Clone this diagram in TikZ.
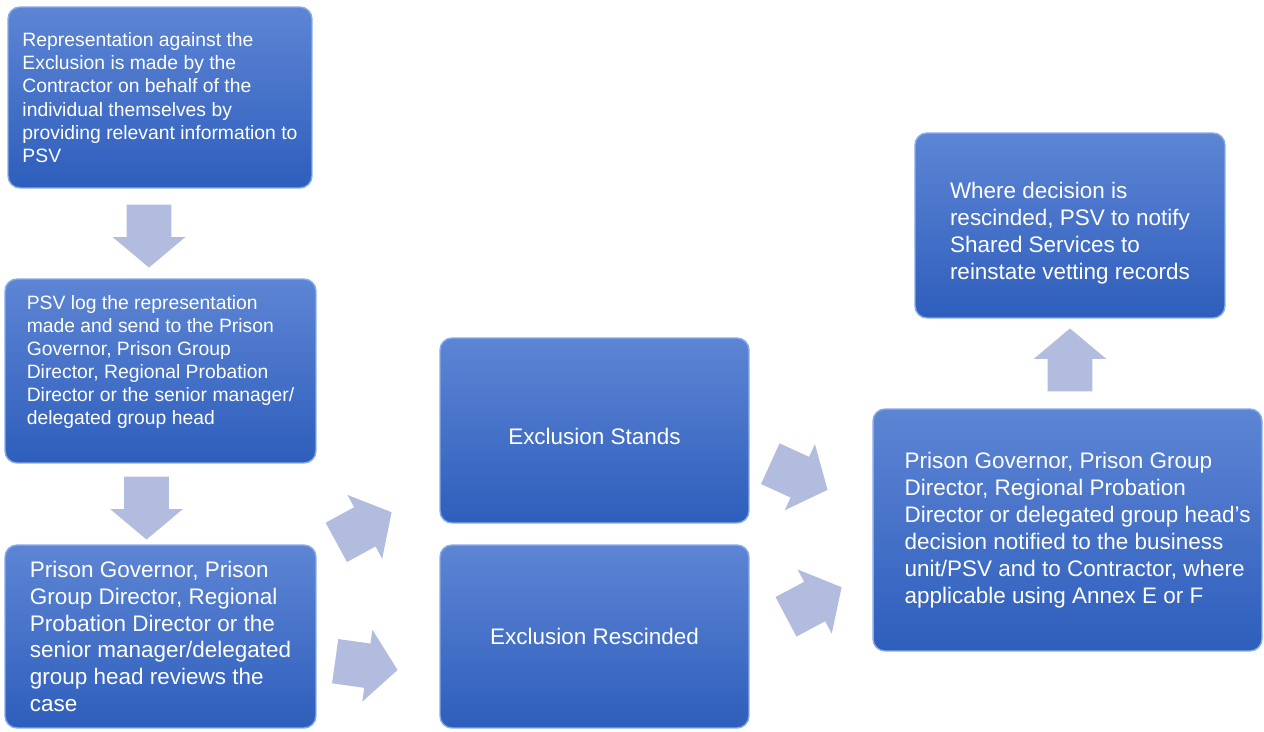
\documentclass[tikz,border=0pt]{standalone}
\usepackage{fontspec}
\setmainfont{Liberation Sans}
\usepackage{xcolor}
\usepackage{tikz}
\usetikzlibrary{shapes.arrows, positioning}

\definecolor{boxtop}{RGB}{93,133,212}
\definecolor{boxbottom}{RGB}{46,94,188}
\definecolor{boxedge}{RGB}{135,170,232}
\definecolor{flowfill}{RGB}{178,188,222}

\begin{document}
\begin{tikzpicture}[x=0.02cm, y=-0.02cm,
    stage/.style={draw=boxedge, line width=0.8pt, rounded corners=0.24cm, top color=boxtop, bottom color=boxbottom, text=white, align=left, inner sep=0pt},
    smalltxt/.style={font=\fontsize{11}{13.2}\selectfont},
    bigtxt/.style={font=\fontsize{12.8}{15.3}\selectfont},
    flow/.style={single arrow, anchor=tip, single arrow head extend=0.28cm, single arrow tip angle=100, minimum height=1.26cm, inner xsep=0pt, inner ysep=0.44cm, fill=flowfill, draw=none}]
      \useasboundingbox (0,0) rectangle (1264,731);

      % Left column
      \node[stage, smalltxt, minimum width=6.08cm, minimum height=3.62cm] (rep) at (160,97.5) {Representation against the\\Exclusion is made by the\\Contractor on behalf of the\\individual themselves by\\providing relevant information to\\PSV};
      \node[stage, smalltxt, minimum width=6.22cm, minimum height=3.68cm, text depth=0.44cm] (logged) at (160.5,371) {PSV log the representation\\made and send to the Prison\\Governor, Prison Group\\Director, Regional Probation\\Director or the senior manager/\\delegated group head};
      \node[stage, bigtxt, minimum width=6.22cm, minimum height=3.66cm] (review) at (160.5,636.5) {Prison Governor, Prison\\Group Director, Regional\\Probation Director or the\\senior manager/delegated\\group head reviews the\\case};

      % Outcomes
      \node[stage, bigtxt, minimum width=6.18cm, minimum height=3.70cm, text height=16pt] (stands) at (594.5,430.5) {Exclusion Stands};
      \node[stage, bigtxt, minimum width=6.18cm, minimum height=3.66cm] (rescind) at (594.5,636.5) {Exclusion Rescinded};

      % Right column
      \node[stage, minimum width=7.78cm, minimum height=4.84cm] (notified) at (1067.5,530) {};
      \node[bigtxt, text=white, align=left, inner sep=0pt, anchor=west] (notifiedText) at ([xshift=0.64cm]notified.west) {Prison Governor, Prison Group\\Director, Regional Probation\\Director or delegated group head's\\decision notified to the business\\unit/PSV and to Contractor, where\\applicable using Annex E or F};
      \node[stage, bigtxt, minimum width=6.2cm, minimum height=3.7cm, text height=64.2pt] (reinstate) at (1070,225.5) {Where decision is\\rescinded, PSV to notify\\Shared Services to\\reinstate vetting records};

      % Block arrows (placed by their tips)
      \node[flow, rotate=-90] (toLog) at (149,268) {};
      \node[flow, rotate=-90] (toReview) at (146.5,540) {};
      \node[flow, rotate=28.6] (toStands) at (392,512) {};
      \node[flow, rotate=-8] (toRescind) at (398,670) {};
      \node[flow, rotate=-24.5] (fromStands) at (828,490) {};
      \node[flow, rotate=28] (fromRescind) at (842,587) {};
      \node[flow, rotate=90] (toReinstate) at (1070,328) {};
    \end{tikzpicture}
\end{document}
